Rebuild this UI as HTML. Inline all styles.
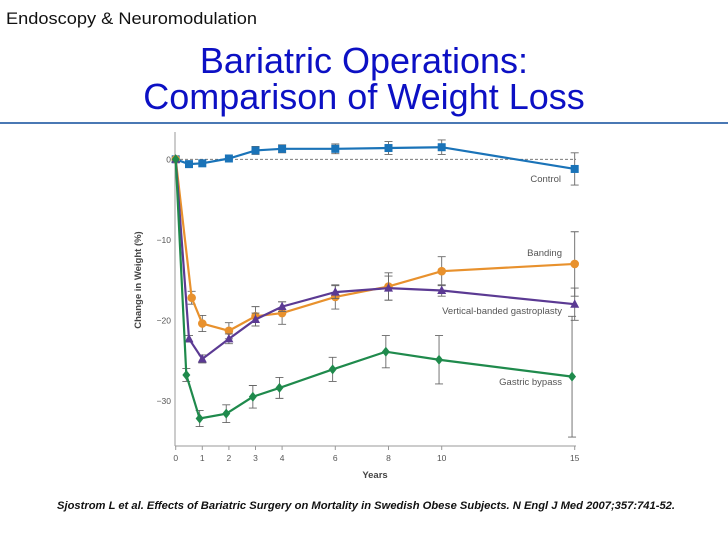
<!DOCTYPE html>
<html><head><meta charset="utf-8"><style>
html,body{margin:0;padding:0;background:#fff;}
svg{display:block;font-family:"Liberation Sans",sans-serif;}
</style></head><body>
<svg id="c" width="728" height="546" viewBox="0 0 728 546" xmlns="http://www.w3.org/2000/svg">
<text x="6" y="24" font-size="17" fill="#111" textLength="251" lengthAdjust="spacingAndGlyphs">Endoscopy &amp; Neuromodulation</text>
<text x="364" y="73" font-size="36" fill="#0c10c4" text-anchor="middle">Bariatric Operations:</text>
<text x="364" y="109" font-size="36" fill="#0c10c4" text-anchor="middle">Comparison of Weight Loss</text>
<rect x="0" y="122" width="728" height="2" fill="#4a78b4"/>
<g id="chart"></g>
<text x="57" y="509" font-size="11" font-weight="bold" font-style="italic" fill="#111" textLength="618" lengthAdjust="spacingAndGlyphs">Sjostrom L et al. Effects of Bariatric Surgery on Mortality in Swedish Obese Subjects. N Engl J Med 2007;357:741-52.</text>
</svg>
<script>
const xTicks=[0,1,2,3,4,6,8,10,15];
const yTicks=[0,-10,-20,-30];
const ctrlX=[0,0.5,1,2,3,4,6,8,10,15];
const ctrlY=[0,-0.6,-0.5,0.1,1.1,1.3,1.3,1.4,1.5,-1.2];
const ctrlE=[0,0.3,0.3,0.3,0.5,0.5,0.6,0.8,0.9,2.0];
const bandX=[0,0.6,1,2,3,4,6,8,10,15];
const bandY=[0,-17.2,-20.4,-21.3,-19.5,-19.1,-17.1,-15.8,-13.9,-13.0];
const bandE=[0,0.8,1.0,1.0,1.2,1.4,1.5,1.7,1.8,4.0];
const vbgX=[0,0.5,1,2,3,4,6,8,10,15];
const vbgY=[0,-22.3,-24.8,-22.3,-19.9,-18.3,-16.5,-16.0,-16.3,-18.0];
const vbgE=[0,0.4,0.5,0.6,0.8,0.6,0.8,1.5,0.7,2.0];
const gbX=[0,0.4,0.9,1.9,2.9,3.9,5.9,7.9,9.9,14.9];
const gbY=[0,-26.8,-32.2,-31.6,-29.5,-28.4,-26.1,-23.9,-24.9,-27.0];
const gbE=[0,0.8,1.0,1.1,1.4,1.3,1.5,2.0,3.0,7.5];
const labels=["Control","Banding","Vertical-banded gastroplasty","Gastric bypass"];

const NS="http://www.w3.org/2000/svg";
const g=document.getElementById('chart');
const sx=v=>175.7+v*26.6;
const sy=v=>159.3-v*8.05;
function mk(t,a,p){const e=document.createElementNS(NS,t);for(const k in a)e.setAttribute(k,a[k]);(p||g).appendChild(e);return e;}
let ax=mk('line',{x1:175,y1:132,x2:175,y2:446,stroke:'#999','stroke-width':1});


let bx=mk('line',{x1:175,y1:446,x2:576,y2:446,stroke:'#999','stroke-width':1});


let zl=mk('line',{x1:175,y1:sy(0),x2:576,y2:sy(0),stroke:'#666','stroke-width':0.8,'stroke-dasharray':'3,2'});


xTicks.forEach(v=>{
 mk('line',{x1:sx(v),y1:446,x2:sx(v),y2:450,stroke:'#999'});
 const t=mk('text',{x:sx(v),y:461,'font-size':8.5,'text-anchor':'middle',fill:'#555'});t.textContent=v;
 
 
});
yTicks.forEach(v=>{
 const t=mk('text',{x:171,y:sy(v)+3,'font-size':8.5,'text-anchor':'end',fill:'#555'});t.textContent=v===0?'0':'\u2212'+Math.abs(v);
 
 
});
let xt=mk('text',{x:375,y:478,'font-size':9.5,'font-weight':'bold','text-anchor':'middle',fill:'#444'});xt.textContent='Years';


let yt=mk('text',{x:0,y:0,'font-size':9.5,'font-weight':'bold','text-anchor':'middle',fill:'#444',transform:'translate(141,280) rotate(-90)'});yt.textContent='Change in Weight (%)';



const series=[
 {x:ctrlX,y:ctrlY,e:ctrlE,c:'#1a73b8',m:'sq',n:'control',lx:561,ly:182},
 {x:bandX,y:bandY,e:bandE,c:'#e8912d',m:'ci',n:'banding',lx:562,ly:256},
 {x:vbgX,y:vbgY,e:vbgE,c:'#5b3a93',m:'tr',n:'vbg',lx:562,ly:314},
 {x:gbX,y:gbY,e:gbE,c:'#1f8a4c',m:'di',n:'gastric-bypass',lx:562,ly:385}
];
series.forEach((s,si)=>{
 const sg=mk('g',{});
 
 
 s.x.forEach((xv,i)=>{ if(s.e[i]>0.35){
  const X=sx(xv),a=sy(s.y[i]+s.e[i]),b=sy(s.y[i]-s.e[i]);
  mk('path',{d:`M${X},${a}V${b}M${X-4},${a}h8M${X-4},${b}h8`,stroke:'#666','stroke-width':0.9,fill:'none'},sg);
 }});
 const pl=mk('polyline',{points:s.x.map((xv,i)=>sx(xv)+','+sy(s.y[i])).join(' '),fill:'none',stroke:s.c,'stroke-width':2.2},sg);
 
 
 s.x.forEach((xv,i)=>{
  const X=sx(xv),Y=sy(s.y[i]);let m;
  if(s.m==='sq')m=mk('rect',{x:X-4,y:Y-4,width:8,height:8,fill:s.c},sg);
  else if(s.m==='ci')m=mk('circle',{cx:X,cy:Y,r:4.3,fill:s.c},sg);
  else if(s.m==='tr')m=mk('path',{d:`M${X},${Y-5}L${X+4.5},${Y+3.5}L${X-4.5},${Y+3.5}Z`,fill:s.c},sg);
  else m=mk('path',{d:`M${X},${Y-5}L${X+4},${Y}L${X},${Y+5}L${X-4},${Y}Z`,fill:s.c},sg);
  
  
 });
 const lt=mk('text',{x:s.lx,y:s.ly,'font-size':9.5,'text-anchor':'end',fill:'#555'},sg);lt.textContent=labels[si];
 
 
});
</script>
</body></html>
